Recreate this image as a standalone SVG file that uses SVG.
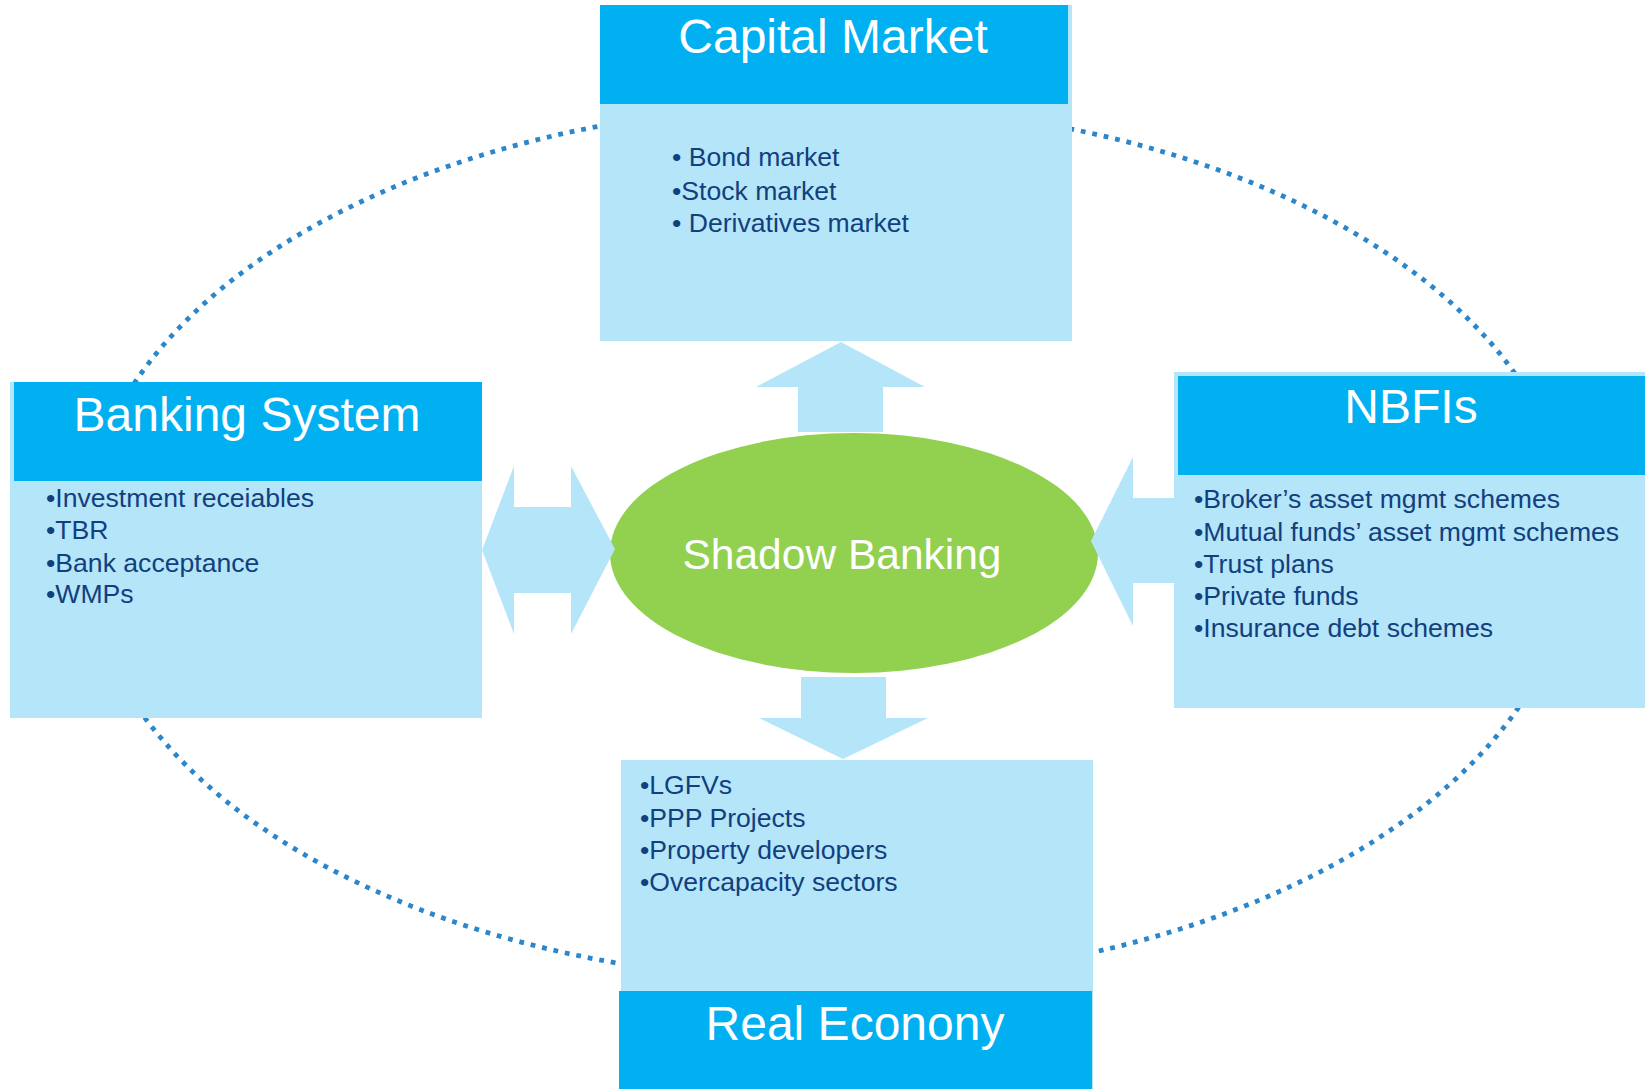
<svg xmlns="http://www.w3.org/2000/svg" width="1645" height="1089" viewBox="0 0 1645 1089">
<style>
.light{fill:#B5E5F8}
.dark{fill:#00B0F0}
.title{font-family:"Liberation Sans",Arial,sans-serif;font-size:48px;fill:#FFFFFF;text-anchor:middle}
.item{font-family:"Liberation Sans",Arial,sans-serif;font-size:26.6px;fill:#123F7E}
.arrow{fill:#B5E5F8}
.cycle{fill:none;stroke:#2C86CA;stroke-width:4.8;stroke-dasharray:4.8 6.9}
</style>
<rect width="1645" height="1089" fill="#FFFFFF"/>
<g id="cycle">
<ellipse class="cycle" cx="828" cy="543" rx="745" ry="438"/>
</g>
<g id="capital-market">
<rect class="light" x="600" y="5" width="472" height="336"/>
<rect class="dark" x="600" y="5" width="468" height="99"/>
<text class="title" x="833" y="53">Capital Market</text>
<text class="item" x="672" y="166">• Bond market</text>
<text class="item" x="672" y="200">•Stock market</text>
<text class="item" x="672" y="232">• Derivatives market</text>
</g>
<g id="banking-system">
<rect class="light" x="10" y="382" width="472" height="336"/>
<rect class="dark" x="14" y="382" width="468" height="99"/>
<text class="title" x="247" y="431">Banking System</text>
<text class="item" x="46" y="507">•Investment receiables</text>
<text class="item" x="46" y="539">•TBR</text>
<text class="item" x="46" y="572">•Bank acceptance</text>
<text class="item" x="46" y="603">•WMPs</text>
</g>
<g id="nbfis">
<rect class="light" x="1174" y="372" width="471" height="336"/>
<rect class="dark" x="1178" y="376" width="467" height="99"/>
<text class="title" x="1411" y="423">NBFIs</text>
<text class="item" x="1194" y="508">•Broker’s asset mgmt schemes</text>
<text class="item" x="1194" y="541">•Mutual funds’ asset mgmt schemes</text>
<text class="item" x="1194" y="573">•Trust plans</text>
<text class="item" x="1194" y="605">•Private funds</text>
<text class="item" x="1194" y="637">•Insurance debt schemes</text>
</g>
<g id="real-economy">
<rect class="light" x="621" y="760" width="472" height="329"/>
<rect class="dark" x="619" y="991" width="473" height="98"/>
<text class="title" x="855" y="1040">Real Econony</text>
<text class="item" x="640" y="794">•LGFVs</text>
<text class="item" x="640" y="827">•PPP Projects</text>
<text class="item" x="640" y="859">•Property developers</text>
<text class="item" x="640" y="891">•Overcapacity sectors</text>
</g>
<g id="shadow-banking">
<ellipse cx="854" cy="553" rx="244" ry="120" fill="#92D050"/>
<text x="842" y="569" font-family="'Liberation Sans',Arial,sans-serif" font-size="42.5" fill="#FFFFFF" text-anchor="middle">Shadow Banking</text>
</g>
<g id="connectors">
<polygon class="arrow" points="841,342 925,387 883,387 883,432 798,432 798,387 756,387"/>
<polygon class="arrow" points="801,677 886,677 886,718 928,718 843,759 759,718 801,718"/>
<polygon class="arrow" points="482,550 514,466 514,507 571,507 571,466 615,549 571,634 571,593 514,593 514,634"/>
<polygon class="arrow" points="1091,541 1133,457 1133,498 1176,498 1176,583 1133,583 1133,626"/>
</g>
</svg>
